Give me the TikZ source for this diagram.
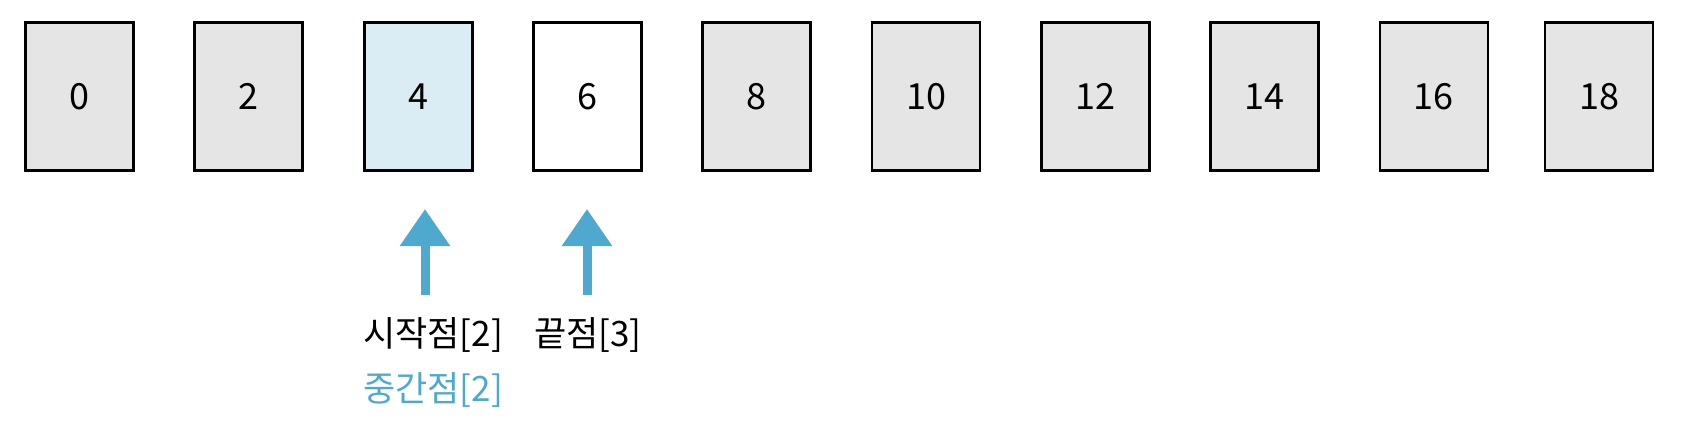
\documentclass[tikz,border=0pt]{standalone}
\usepackage{fontspec}
\setmainfont{Noto Sans CJK KR}
\usepackage{tikz}
\usepackage{xcolor}
\usetikzlibrary{arrows.meta, positioning}
\definecolor{cellgray}{RGB}{229, 229, 229}
\definecolor{cellblue}{RGB}{218, 237, 244}
\definecolor{ptrblue}{RGB}{79, 169, 207}

\begin{document}
\begin{tikzpicture}[x=1pt, y=-1pt,
    cell/.style={draw=black, line width=2.8pt, fill=cellgray, minimum width=108pt, minimum height=148pt, inner sep=0pt, font=\fontsize{36}{40}\selectfont},
    ptr/.style={draw=ptrblue, line width=9pt, -{Triangle[length=37pt, width=48pt]}},
    lbl/.style={anchor=base, font=\fontsize{35}{40}\selectfont}]
    \useasboundingbox (0,0) rectangle (1705,441);

    % Array cells
    \node[cell] (c0) at (79.5,96.5) {0};
    \node[cell] (c1) at (248.8,96.5) {2};
    \node[cell, fill=cellblue] (c2) at (418.1,96.5) {4};
    \node[cell, fill=white] (c3) at (587.4,96.5) {6};
    \node[cell] (c4) at (756.7,96.5) {8};
    \node[cell] (c5) at (926,96.5) {10};
    \node[cell] (c6) at (1095.3,96.5) {12};
    \node[cell] (c7) at (1264.6,96.5) {14};
    \node[cell] (c8) at (1433.9,96.5) {16};
    \node[cell] (c9) at (1599,96.5) {18};

    % Pointers
    \coordinate (s1) at (425,295);
    \coordinate (t1) at (425,209);
    \coordinate (s2) at (587,295);
    \coordinate (t2) at (587,209);
    \draw[ptr] (s1) -- (t1);
    \draw[ptr] (s2) -- (t2);

    % Labels
    \node[lbl] (start) at (433,346) {시작점[2]};
    \node[lbl] (end) at (588,346) {끝점[3]};
    \node[lbl, text=ptrblue] (mid) at (433,401) {중간점[2]};
\end{tikzpicture}
\end{document}
